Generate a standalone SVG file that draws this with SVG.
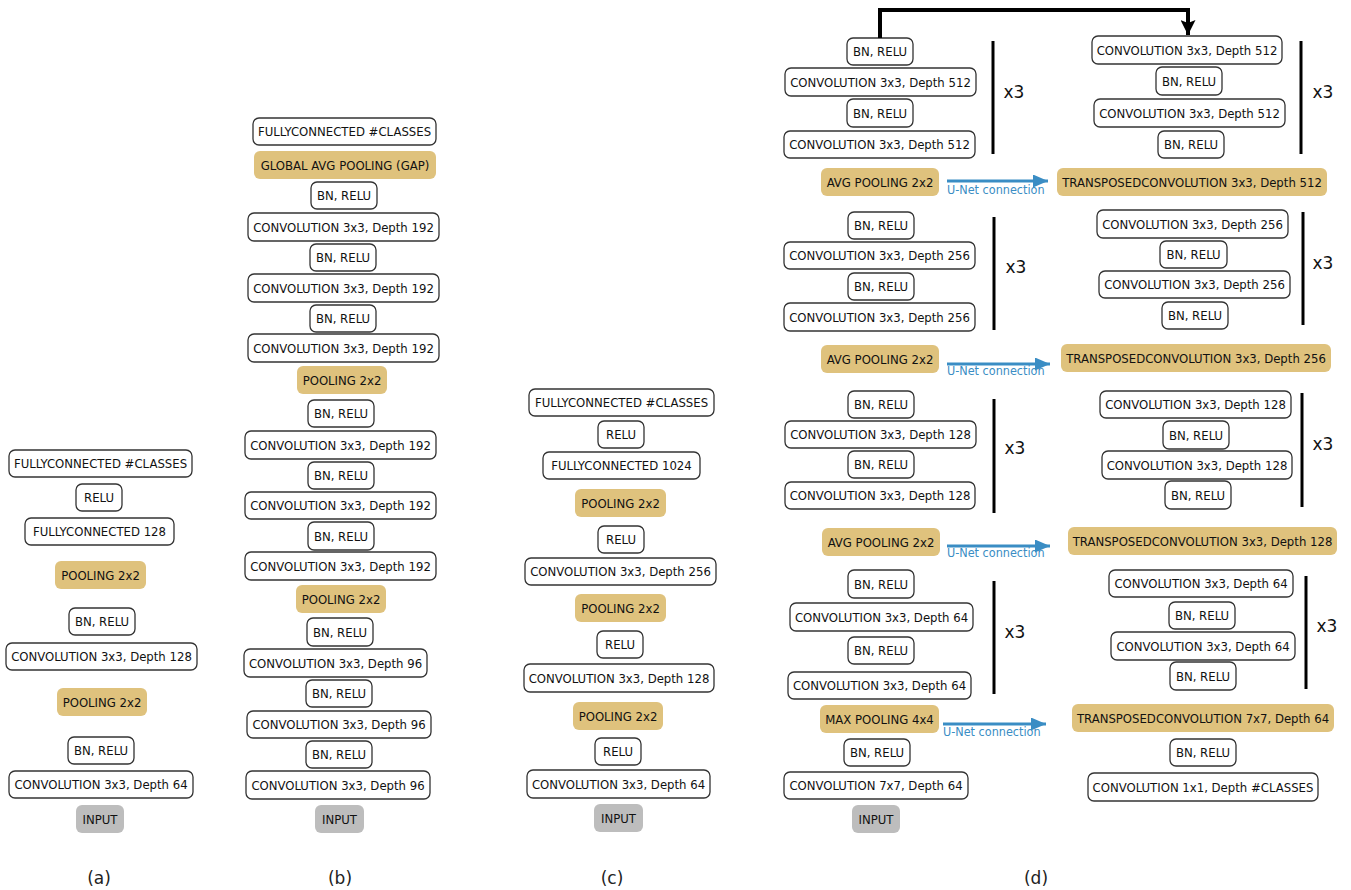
<svg xmlns="http://www.w3.org/2000/svg" width="1351" height="890" viewBox="0 0 1351 890">
<style>
.b rect{fill:#fff;stroke:#333;stroke-width:1.3}
.p rect{fill:#dfc27d;stroke:none}
.i rect{fill:#bdbdbd;stroke:none}
.n text{font-family:"DejaVu Sans Condensed","DejaVu Sans",sans-serif;font-stretch:condensed;font-size:13px;fill:#111;text-anchor:middle;dominant-baseline:central}
.x3{font-family:"DejaVu Sans",sans-serif;font-size:17px;fill:#111;text-anchor:middle;dominant-baseline:central}
.lab{font-family:"DejaVu Sans",sans-serif;font-size:17px;fill:#222;text-anchor:middle}
.un{font-family:"DejaVu Sans Condensed","DejaVu Sans",sans-serif;font-stretch:condensed;font-size:12.5px;fill:#3a8dc4}
.bar{stroke:#000;stroke-width:3}
.blue{stroke:#3a8dc4;stroke-width:3;fill:none}
</style>
<defs>
<marker id="ab" viewBox="0 0 15 13" refX="15" refY="6.5" markerWidth="15" markerHeight="13" markerUnits="userSpaceOnUse" orient="auto"><path d="M0,0 L15,6.5 L0,13 Z" fill="#3a8dc4"/></marker>
<marker id="ak" viewBox="0 0 16 15" refX="15" refY="7.5" markerWidth="16" markerHeight="15" markerUnits="userSpaceOnUse" orient="auto"><path d="M0,0 L15,7.5 L0,15 L3,7.5 Z" fill="#000"/></marker>
</defs>
<g id="a">
<g id="a1" class="n b"><rect x="9" y="450" width="183" height="27" rx="6"/><text x="100.5" y="463.5">FULLYCONNECTED #CLASSES</text></g>
<g id="a2" class="n b"><rect x="76" y="484" width="46" height="27" rx="6"/><text x="99" y="497.5">RELU</text></g>
<g id="a3" class="n b"><rect x="25" y="518" width="149" height="27" rx="6"/><text x="99.5" y="531.5">FULLYCONNECTED 128</text></g>
<g id="a4" class="n p"><rect x="55" y="561" width="91" height="28" rx="6"/><text x="100.5" y="575">POOLING 2x2</text></g>
<g id="a5" class="n b"><rect x="69" y="608" width="66" height="27" rx="6"/><text x="102" y="621.5">BN, RELU</text></g>
<g id="a6" class="n b"><rect x="6" y="643" width="191" height="27" rx="6"/><text x="101.5" y="656.5">CONVOLUTION 3x3, Depth 128</text></g>
<g id="a7" class="n p"><rect x="57" y="688" width="90" height="28" rx="6"/><text x="102" y="702">POOLING 2x2</text></g>
<g id="a8" class="n b"><rect x="68" y="737" width="66" height="27" rx="6"/><text x="101" y="750.5">BN, RELU</text></g>
<g id="a9" class="n b"><rect x="9" y="771" width="184" height="27" rx="6"/><text x="101" y="784.5">CONVOLUTION 3x3, Depth 64</text></g>
<g id="a10" class="n i"><rect x="76" y="805" width="48" height="28" rx="6"/><text x="100" y="819">INPUT</text></g>
</g>
<g id="b">
<g id="b1" class="n b"><rect x="253" y="118" width="183" height="27" rx="6"/><text x="344.5" y="131.5">FULLYCONNECTED #CLASSES</text></g>
<g id="b2" class="n p"><rect x="254" y="151" width="182" height="28" rx="6"/><text x="345" y="165">GLOBAL AVG POOLING (GAP)</text></g>
<g id="b3" class="n b"><rect x="311" y="182" width="66" height="27" rx="6"/><text x="344" y="195.5">BN, RELU</text></g>
<g id="b4" class="n b"><rect x="248" y="213" width="191" height="28" rx="6"/><text x="343.5" y="227">CONVOLUTION 3x3, Depth 192</text></g>
<g id="b5" class="n b"><rect x="310" y="244" width="66" height="27" rx="6"/><text x="343" y="257.5">BN, RELU</text></g>
<g id="b6" class="n b"><rect x="248" y="274" width="191" height="28" rx="6"/><text x="343.5" y="288">CONVOLUTION 3x3, Depth 192</text></g>
<g id="b7" class="n b"><rect x="310" y="305" width="66" height="27" rx="6"/><text x="343" y="318.5">BN, RELU</text></g>
<g id="b8" class="n b"><rect x="248" y="334" width="191" height="28" rx="6"/><text x="343.5" y="348">CONVOLUTION 3x3, Depth 192</text></g>
<g id="b9" class="n p"><rect x="297" y="366" width="90" height="28" rx="6"/><text x="342" y="380">POOLING 2x2</text></g>
<g id="b10" class="n b"><rect x="308" y="400" width="66" height="27" rx="6"/><text x="341" y="413.5">BN, RELU</text></g>
<g id="b11" class="n b"><rect x="245" y="431" width="191" height="28" rx="6"/><text x="340.5" y="445">CONVOLUTION 3x3, Depth 192</text></g>
<g id="b12" class="n b"><rect x="308" y="462" width="66" height="27" rx="6"/><text x="341" y="475.5">BN, RELU</text></g>
<g id="b13" class="n b"><rect x="245" y="492" width="191" height="27" rx="6"/><text x="340.5" y="505.5">CONVOLUTION 3x3, Depth 192</text></g>
<g id="b14" class="n b"><rect x="308" y="522" width="66" height="28" rx="6"/><text x="341" y="536">BN, RELU</text></g>
<g id="b15" class="n b"><rect x="245" y="552" width="191" height="28" rx="6"/><text x="340.5" y="566">CONVOLUTION 3x3, Depth 192</text></g>
<g id="b16" class="n p"><rect x="296" y="585" width="90" height="28" rx="6"/><text x="341" y="599">POOLING 2x2</text></g>
<g id="b17" class="n b"><rect x="307" y="618" width="66" height="28" rx="6"/><text x="340" y="632">BN, RELU</text></g>
<g id="b18" class="n b"><rect x="244" y="649" width="183" height="28" rx="6"/><text x="335.5" y="663">CONVOLUTION 3x3, Depth 96</text></g>
<g id="b19" class="n b"><rect x="306" y="680" width="66" height="27" rx="6"/><text x="339" y="693.5">BN, RELU</text></g>
<g id="b20" class="n b"><rect x="247" y="711" width="184" height="27" rx="6"/><text x="339" y="724.5">CONVOLUTION 3x3, Depth 96</text></g>
<g id="b21" class="n b"><rect x="306" y="741" width="66" height="27" rx="6"/><text x="339" y="754.5">BN, RELU</text></g>
<g id="b22" class="n b"><rect x="246" y="771" width="184" height="28" rx="6"/><text x="338" y="785">CONVOLUTION 3x3, Depth 96</text></g>
<g id="b23" class="n i"><rect x="315" y="805" width="49" height="28" rx="6"/><text x="339.5" y="819">INPUT</text></g>
</g>
<g id="c">
<g id="c1" class="n b"><rect x="529" y="389" width="185" height="27" rx="6"/><text x="621.5" y="402.5">FULLYCONNECTED #CLASSES</text></g>
<g id="c2" class="n b"><rect x="598" y="421" width="46" height="27" rx="6"/><text x="621" y="434.5">RELU</text></g>
<g id="c3" class="n b"><rect x="543" y="452" width="157" height="27" rx="6"/><text x="621.5" y="465.5">FULLYCONNECTED 1024</text></g>
<g id="c4" class="n p"><rect x="575" y="489" width="91" height="28" rx="6"/><text x="620.5" y="503">POOLING 2x2</text></g>
<g id="c5" class="n b"><rect x="598" y="526" width="46" height="27" rx="6"/><text x="621" y="539.5">RELU</text></g>
<g id="c6" class="n b"><rect x="525" y="558" width="191" height="27" rx="6"/><text x="620.5" y="571.5">CONVOLUTION 3x3, Depth 256</text></g>
<g id="c7" class="n p"><rect x="575" y="594" width="91" height="28" rx="6"/><text x="620.5" y="608">POOLING 2x2</text></g>
<g id="c8" class="n b"><rect x="597" y="631" width="46" height="27" rx="6"/><text x="620" y="644.5">RELU</text></g>
<g id="c9" class="n b"><rect x="524" y="664" width="190" height="28" rx="6"/><text x="619" y="678">CONVOLUTION 3x3, Depth 128</text></g>
<g id="c10" class="n p"><rect x="573" y="702" width="90" height="28" rx="6"/><text x="618" y="716">POOLING 2x2</text></g>
<g id="c11" class="n b"><rect x="595" y="738" width="46" height="27" rx="6"/><text x="618" y="751.5">RELU</text></g>
<g id="c12" class="n b"><rect x="527" y="770" width="183" height="28" rx="6"/><text x="618.5" y="784">CONVOLUTION 3x3, Depth 64</text></g>
<g id="c13" class="n i"><rect x="594" y="804" width="49" height="28" rx="6"/><text x="618.5" y="818">INPUT</text></g>
</g>
<g id="dl">
<g id="dl1" class="n b"><rect x="847" y="38" width="66" height="27" rx="6"/><text x="880" y="51.5">BN, RELU</text></g>
<g id="dl2" class="n b"><rect x="785" y="68" width="191" height="28" rx="6"/><text x="880.5" y="82">CONVOLUTION 3x3, Depth 512</text></g>
<g id="dl3" class="n b"><rect x="847" y="99" width="66" height="28" rx="6"/><text x="880" y="113">BN, RELU</text></g>
<g id="dl4" class="n b"><rect x="784" y="131" width="191" height="27" rx="6"/><text x="879.5" y="144.5">CONVOLUTION 3x3, Depth 512</text></g>
<g id="dl5" class="n p"><rect x="821" y="168" width="118" height="28" rx="6"/><text x="880" y="182">AVG POOLING 2x2</text></g>
<g id="dl6" class="n b"><rect x="848" y="212" width="66" height="27" rx="6"/><text x="881" y="225.5">BN, RELU</text></g>
<g id="dl7" class="n b"><rect x="784" y="242" width="191" height="27" rx="6"/><text x="879.5" y="255.5">CONVOLUTION 3x3, Depth 256</text></g>
<g id="dl8" class="n b"><rect x="848" y="273" width="66" height="27" rx="6"/><text x="881" y="286.5">BN, RELU</text></g>
<g id="dl9" class="n b"><rect x="784" y="303" width="191" height="28" rx="6"/><text x="879.5" y="317">CONVOLUTION 3x3, Depth 256</text></g>
<g id="dl10" class="n p"><rect x="821" y="345" width="118" height="28" rx="6"/><text x="880" y="359">AVG POOLING 2x2</text></g>
<g id="dl11" class="n b"><rect x="848" y="391" width="66" height="27" rx="6"/><text x="881" y="404.5">BN, RELU</text></g>
<g id="dl12" class="n b"><rect x="785" y="421" width="191" height="27" rx="6"/><text x="880.5" y="434.5">CONVOLUTION 3x3, Depth 128</text></g>
<g id="dl13" class="n b"><rect x="848" y="451" width="66" height="27" rx="6"/><text x="881" y="464.5">BN, RELU</text></g>
<g id="dl14" class="n b"><rect x="785" y="482" width="190" height="27" rx="6"/><text x="880" y="495.5">CONVOLUTION 3x3, Depth 128</text></g>
<g id="dl15" class="n p"><rect x="822" y="528" width="118" height="28" rx="6"/><text x="881" y="542">AVG POOLING 2x2</text></g>
<g id="dl16" class="n b"><rect x="848" y="570" width="66" height="28" rx="6"/><text x="881" y="584">BN, RELU</text></g>
<g id="dl17" class="n b"><rect x="790" y="603" width="183" height="28" rx="6"/><text x="881.5" y="617">CONVOLUTION 3x3, Depth 64</text></g>
<g id="dl18" class="n b"><rect x="848" y="637" width="66" height="27" rx="6"/><text x="881" y="650.5">BN, RELU</text></g>
<g id="dl19" class="n b"><rect x="788" y="672" width="183" height="27" rx="6"/><text x="879.5" y="685.5">CONVOLUTION 3x3, Depth 64</text></g>
<g id="dl20" class="n p"><rect x="820" y="705" width="119" height="28" rx="6"/><text x="879.5" y="719">MAX POOLING 4x4</text></g>
<g id="dl21" class="n b"><rect x="844" y="739" width="66" height="27" rx="6"/><text x="877" y="752.5">BN, RELU</text></g>
<g id="dl22" class="n b"><rect x="784" y="772" width="184" height="27" rx="6"/><text x="876" y="785.5">CONVOLUTION 7x7, Depth 64</text></g>
<g id="dl23" class="n i"><rect x="852" y="805" width="48" height="28" rx="6"/><text x="876" y="819">INPUT</text></g>
</g>
<g id="dr">
<g id="dr1" class="n b"><rect x="1092" y="36" width="190" height="28" rx="6"/><text x="1187" y="50">CONVOLUTION 3x3, Depth 512</text></g>
<g id="dr2" class="n b"><rect x="1156" y="67" width="66" height="28" rx="6"/><text x="1189" y="81">BN, RELU</text></g>
<g id="dr3" class="n b"><rect x="1094" y="99" width="191" height="28" rx="6"/><text x="1189.5" y="113">CONVOLUTION 3x3, Depth 512</text></g>
<g id="dr4" class="n b"><rect x="1158" y="131" width="66" height="27" rx="6"/><text x="1191" y="144.5">BN, RELU</text></g>
<g id="dr5" class="n p"><rect x="1057" y="168" width="270" height="28" rx="6"/><text x="1192" y="182">TRANSPOSEDCONVOLUTION 3x3, Depth 512</text></g>
<g id="dr6" class="n b"><rect x="1097" y="210" width="191" height="28" rx="6"/><text x="1192.5" y="224">CONVOLUTION 3x3, Depth 256</text></g>
<g id="dr7" class="n b"><rect x="1160" y="241" width="67" height="27" rx="6"/><text x="1193.5" y="254.5">BN, RELU</text></g>
<g id="dr8" class="n b"><rect x="1099" y="271" width="191" height="27" rx="6"/><text x="1194.5" y="284.5">CONVOLUTION 3x3, Depth 256</text></g>
<g id="dr9" class="n b"><rect x="1162" y="302" width="66" height="27" rx="6"/><text x="1195" y="315.5">BN, RELU</text></g>
<g id="dr10" class="n p"><rect x="1061" y="344" width="270" height="28" rx="6"/><text x="1196" y="358">TRANSPOSEDCONVOLUTION 3x3, Depth 256</text></g>
<g id="dr11" class="n b"><rect x="1100" y="391" width="191" height="27" rx="6"/><text x="1195.5" y="404.5">CONVOLUTION 3x3, Depth 128</text></g>
<g id="dr12" class="n b"><rect x="1163" y="421" width="66" height="28" rx="6"/><text x="1196" y="435">BN, RELU</text></g>
<g id="dr13" class="n b"><rect x="1102" y="451" width="190" height="28" rx="6"/><text x="1197" y="465">CONVOLUTION 3x3, Depth 128</text></g>
<g id="dr14" class="n b"><rect x="1165" y="481" width="66" height="28" rx="6"/><text x="1198" y="495">BN, RELU</text></g>
<g id="dr15" class="n p"><rect x="1068" y="527" width="269" height="28" rx="6"/><text x="1202.5" y="541">TRANSPOSEDCONVOLUTION 3x3, Depth 128</text></g>
<g id="dr16" class="n b"><rect x="1109" y="570" width="184" height="27" rx="6"/><text x="1201" y="583.5">CONVOLUTION 3x3, Depth 64</text></g>
<g id="dr17" class="n b"><rect x="1169" y="602" width="66" height="27" rx="6"/><text x="1202" y="615.5">BN, RELU</text></g>
<g id="dr18" class="n b"><rect x="1111" y="632" width="184" height="28" rx="6"/><text x="1203" y="646">CONVOLUTION 3x3, Depth 64</text></g>
<g id="dr19" class="n b"><rect x="1170" y="662" width="66" height="28" rx="6"/><text x="1203" y="676">BN, RELU</text></g>
<g id="dr20" class="n p"><rect x="1072" y="704" width="262" height="28" rx="6"/><text x="1203" y="718">TRANSPOSEDCONVOLUTION 7x7, Depth 64</text></g>
<g id="dr21" class="n b"><rect x="1170" y="739" width="66" height="27" rx="6"/><text x="1203" y="752.5">BN, RELU</text></g>
<g id="dr22" class="n b"><rect x="1088" y="773" width="230" height="28" rx="6"/><text x="1203" y="787">CONVOLUTION 1x1, Depth #CLASSES</text></g>
</g>
<g id="repeat-brackets">
<line class="bar" x1="993" y1="41" x2="993" y2="154"/>
<line class="bar" x1="994" y1="217" x2="994" y2="330"/>
<line class="bar" x1="994" y1="399" x2="994" y2="513"/>
<line class="bar" x1="994" y1="581" x2="994" y2="694"/>
<line class="bar" x1="1301" y1="41" x2="1301" y2="154"/>
<line class="bar" x1="1303" y1="212" x2="1303" y2="325"/>
<line class="bar" x1="1302" y1="393" x2="1302" y2="507"/>
<line class="bar" x1="1306" y1="576" x2="1306" y2="689"/>
<text class="x3" x="1014" y="92">x3</text>
<text class="x3" x="1016" y="267">x3</text>
<text class="x3" x="1015" y="448">x3</text>
<text class="x3" x="1015" y="632">x3</text>
<text class="x3" x="1323" y="92">x3</text>
<text class="x3" x="1323" y="263">x3</text>
<text class="x3" x="1323" y="444">x3</text>
<text class="x3" x="1327" y="626">x3</text>
</g>
<g id="connectors">
<path d="M880,38 V10 H1188 V35" fill="none" stroke="#000" stroke-width="4" marker-end="url(#ak)"/>
<line class="blue" x1="947" y1="181" x2="1048" y2="181" marker-end="url(#ab)"/>
<line class="blue" x1="947" y1="364" x2="1050" y2="364" marker-end="url(#ab)"/>
<line class="blue" x1="947" y1="546" x2="1050" y2="546" marker-end="url(#ab)"/>
<line class="blue" x1="943" y1="724" x2="1046" y2="724" marker-end="url(#ab)"/>
<text class="un" x="947" y="194">U-Net connection</text>
<text class="un" x="947" y="375">U-Net connection</text>
<text class="un" x="947" y="557">U-Net connection</text>
<text class="un" x="943" y="736">U-Net connection</text>
</g>
<g id="labels">
<text class="lab" x="99" y="884">(a)</text>
<text class="lab" x="340" y="884">(b)</text>
<text class="lab" x="612" y="884">(c)</text>
<text class="lab" x="1036" y="884">(d)</text>
</g>
</svg>
